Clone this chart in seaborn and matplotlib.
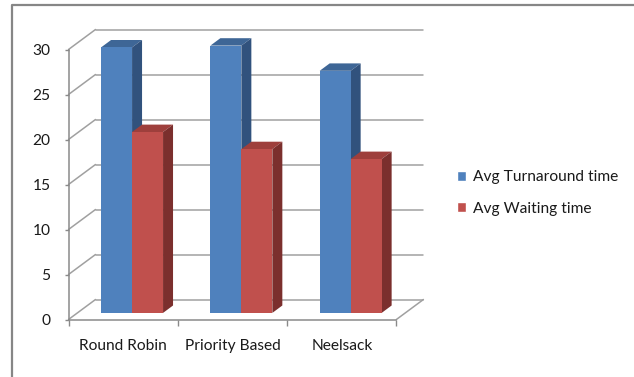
import matplotlib
matplotlib.use("Agg")
import matplotlib.pyplot as plt
from matplotlib.patches import Polygon
from matplotlib.lines import Line2D
import pandas as pd
import seaborn as sns

# chart values
schedulers = ["Round Robin", "Priority Based", "Neelsack"]
avg_turnaround = [29.5, 29.7, 26.9]
avg_waiting = [20.1, 18.2, 17.1]
series_names = ["Avg Turnaround time", "Avg Waiting time"]
y_ticks = [0, 5, 10, 15, 20, 25, 30]

df = pd.DataFrame({
    "scheduler": schedulers * 2,
    "metric": [series_names[0]] * 3 + [series_names[1]] * 3,
    "value": avg_turnaround + avg_waiting,
})

front_colors = ["#4F81BD", "#C0504D"]
top_colors = ["#3E6696", "#9E3F3C"]
side_colors = ["#31527D", "#7B2F2D"]
grid_col = "#A0A0A0"

sns.set_theme(style="white")
plt.rcParams["font.family"] = ["Lato", "DejaVu Sans"]

W, H = 634, 377
fig = plt.figure(figsize=(W / 100, H / 100), dpi=100)
ax = fig.add_axes([0, 0, 1, 1])

sns.barplot(data=df, x="scheduler", y="value", hue="metric", palette=front_colors,
            width=0.567, saturation=1, errorbar=None, ax=ax, legend=True)

# pixel geometry of the plot area (front plane)
px_cat = 109.3
px_val = 9.0
x0_px = 68.5      # pixel of category -0.5
y0_px = 319.5     # pixel (from top) of value 0
ax.set_xlim(-0.5 - x0_px / px_cat, -0.5 + (W - x0_px) / px_cat)
ax.set_ylim((y0_px - H) / px_val, y0_px / px_val)

# oblique depth of the walls and of the bars
wall_dx = 27 / px_cat
wall_dy = 20 / px_val
bar_front = 0.33
bar_back = 0.70

ymax = y_ticks[-1]
xl, xr = -0.5, len(schedulers) - 0.5

# back wall gridlines + left wall diagonals
for v in y_ticks:
    ax.plot([xl + wall_dx, xr + wall_dx], [v + wall_dy, v + wall_dy], color=grid_col, lw=1.1, zorder=0.5)
    ax.plot([xl, xl + wall_dx], [v, v + wall_dy], color=grid_col, lw=1.1, zorder=0.5)
# floor right edge
ax.plot([xr, xr + wall_dx], [0, wall_dy], color=grid_col, lw=1.1, zorder=0.5)

# turn the flat bars into 3d blocks
bars = [p for p in ax.patches if p.get_height() > 0]
fx, fy = bar_front * wall_dx, bar_front * wall_dy
dx, dy = (bar_back - bar_front) * wall_dx, (bar_back - bar_front) * wall_dy
for p in bars:
    col = p.get_facecolor()
    k = 0 if abs(col[2] - 0.741) < 0.05 else 1
    x, w, h = p.get_x() + fx, p.get_width(), p.get_height()
    p.set_x(x)
    p.set_y(fy)
    p.set_edgecolor("none")
    p.set_zorder(2 + k * 2)
    top = Polygon([(x, fy + h), (x + w, fy + h), (x + w + dx, fy + h + dy), (x + dx, fy + h + dy)],
                  closed=True, facecolor=top_colors[k], edgecolor="none", zorder=1.9 + k * 2)
    side = Polygon([(x + w, fy), (x + w + dx, fy + dy), (x + w + dx, fy + h + dy), (x + w, fy + h)],
                   closed=True, facecolor=side_colors[k], edgecolor="none", zorder=1.9 + k * 2)
    ax.add_patch(top)
    ax.add_patch(side)

# axes lines and ticks
for s in ["top", "right"]:
    ax.spines[s].set_visible(False)
ax.spines["left"].set_position(("data", xl))
ax.spines["left"].set_bounds(0, ymax)
ax.spines["bottom"].set_position(("data", 0))
ax.spines["bottom"].set_bounds(xl, xr)
for s in ["left", "bottom"]:
    ax.spines[s].set_color("#8A8A8A")
    ax.spines[s].set_linewidth(1.1)
    ax.spines[s].set_zorder(1)

fs = 11.2
ax.set_yticks(y_ticks)
ax.set_yticklabels([str(v) for v in y_ticks])
ax.set_xticks(range(len(schedulers)))
ax.set_xticklabels(schedulers)
ax.set_xticks([i - 0.5 for i in range(len(schedulers) + 1)], minor=True)
ax.tick_params(axis="y", which="major", left=True, direction="out", length=3, width=1,
               color="#8A8A8A", pad=10, labelsize=fs, labelcolor="#1a1a1a")
ax.tick_params(axis="x", which="major", bottom=True, length=0, pad=14, labelsize=fs, labelcolor="#1a1a1a")
ax.tick_params(axis="x", which="minor", bottom=True, direction="out", length=4, width=1, color="#8A8A8A")
ax.set_xlabel("")
ax.set_ylabel("")

# legend
handles, labels = ax.get_legend_handles_labels()
ax.legend(handles, labels, loc="center left", bbox_to_anchor=(443 / W, 1 - 193 / H),
          bbox_transform=fig.transFigure, frameon=False, fontsize=fs,
          handlelength=0.6, handleheight=0.6, handletextpad=0.4, labelspacing=1.1,
          labelcolor="#1a1a1a")

# outer frame (left and top edges)
fig.add_artist(Line2D([12 / W, 12 / W, 1], [0, 1 - 5 / H, 1 - 5 / H], transform=fig.transFigure,
                      color="#868686", lw=1.6))

fig.savefig("out.png", dpi=100)
